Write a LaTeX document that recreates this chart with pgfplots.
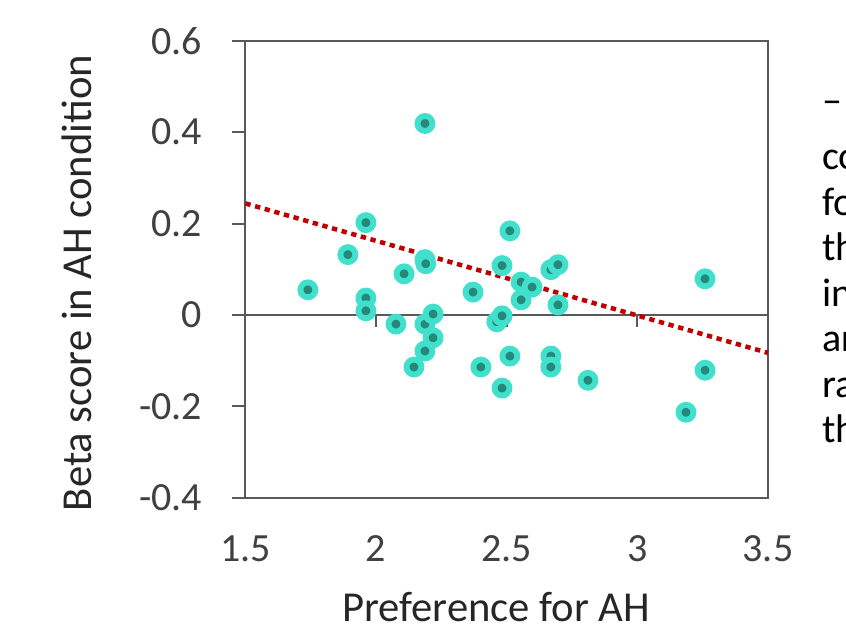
\documentclass[border=0pt]{standalone}
\usepackage{fontspec}
\setmainfont{Carlito}
\usepackage{pgfplots}
\pgfplotsset{compat=1.18}
\definecolor{ptout}{RGB}{64,224,204}
\definecolor{ptin}{RGB}{38,136,122}
\definecolor{fitred}{RGB}{192,0,0}
\definecolor{axgray}{RGB}{89,89,89}
\definecolor{txtgray}{RGB}{64,64,64}

\begin{document}
\begin{tikzpicture}
\clip (-184.1pt,-96.2pt) rectangle (450.4pt,373.3pt);
\begin{axis}[
  at={(0,0)}, anchor=south west,
  scale only axis, width=391.9pt, height=342.75pt,
  xmin=1.5, xmax=3.5, ymin=-0.4, ymax=0.6,
  xtick={1.5,2,2.5,3,3.5}, ytick={-0.4,-0.2,0,0.2,0.4,0.6},
  /pgf/number format/assume math mode=true,
  tick label style={font=\fontsize{30}{36}\selectfont, text=txtgray},
  label style={font=\fontsize{32}{38}\selectfont, text=black!85, inner sep=0pt},
  axis line style={axgray, line width=1.5pt},
  xtick style={draw=none},
  ytick pos=left, ytick align=outside,
  ytick style={axgray, line width=1.5pt},
  major tick length=10pt,
  xticklabel style={yshift=-25pt},
  yticklabel style={xshift=-19pt},
  xlabel={Preference for AH},
  ylabel={Beta score in AH condition},
  xlabel style={at={(axis description cs:0.48,-0.239)}, anchor=center},
  ylabel style={at={(axis description cs:-0.3225,0.47)}, anchor=center},
  clip=false,
]
\draw[axgray, line width=1.5pt] (axis cs:1.5,0) -- (axis cs:3.5,0);
\pgfplotsinvokeforeach{2,2.5,3}{\draw[axgray, line width=1.5pt] (axis cs:#1,0) -- ([yshift=-9pt]axis cs:#1,0);}
\addplot[only marks, mark=*, mark size=5.6pt,
  mark options={fill=ptin, draw=ptout, line width=4.4pt}] coordinates {
  (1.739,0.055) (1.892,0.132) (1.961,0.202) (1.961,0.037) (1.961,0.009)
  (2.076,-0.020) (2.107,0.090) (2.187,0.419) (2.187,0.121) (2.190,0.112)
  (2.187,-0.020) (2.187,-0.079) (2.218,0.002) (2.218,-0.050) (2.145,-0.114)
  (2.371,0.050) (2.401,-0.114) (2.462,-0.015) (2.482,-0.002) (2.482,-0.160)
  (2.482,0.108) (2.512,0.184) (2.512,-0.090) (2.555,0.072) (2.597,0.061)
  (2.555,0.033) (2.669,0.099) (2.696,0.110) (2.696,0.022) (2.669,-0.090)
  (2.669,-0.114) (2.811,-0.143) (3.186,-0.213) (3.259,0.079) (3.259,-0.121)
};
\addplot[fitred, line width=3.4pt, dash pattern=on 4pt off 3.5pt] coordinates {
  (1.5,0.244) (3.5,-0.083)
};
\end{axis}
\begin{scope}[every node/.style={anchor=base west, inner sep=0pt, font=\fontsize{30}{36}\selectfont}]
\node at (432.4pt,288.5pt) {–};
\node at (432.4pt,246.2pt) {co};
\node at (432.4pt,212.0pt) {fo};
\node at (432.4pt,177.9pt) {th};
\node at (432.4pt,143.8pt) {in};
\node at (432.4pt,109.6pt) {ar};
\node at (432.4pt,75.5pt) {ra};
\node at (432.4pt,41.3pt) {th};
\end{scope}
\end{tikzpicture}
\end{document}
